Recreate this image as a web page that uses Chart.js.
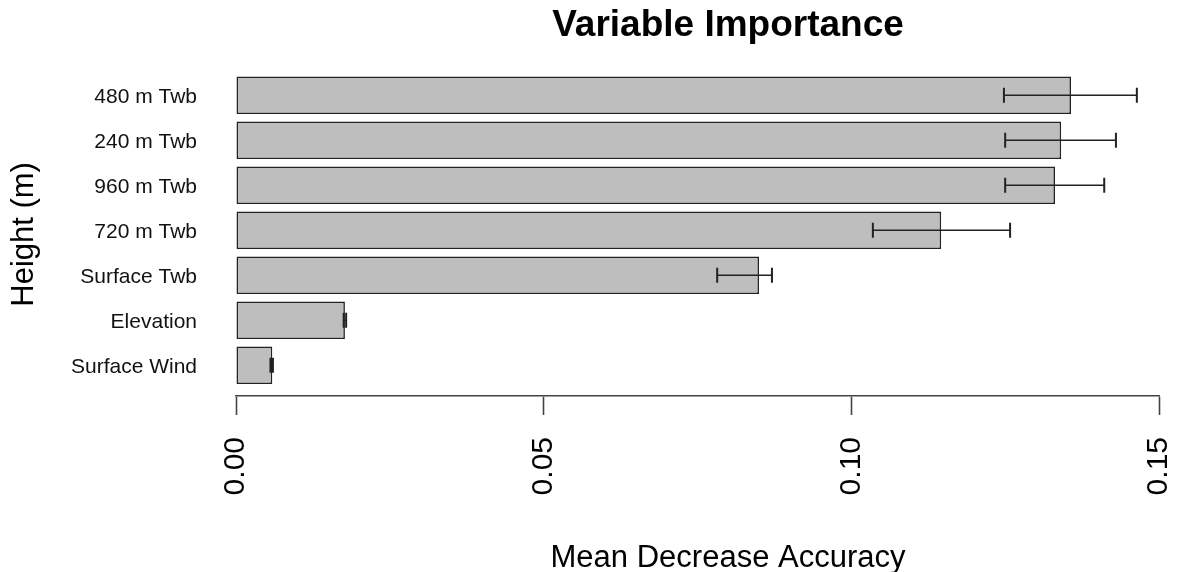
<!DOCTYPE html>
<html>
<head>
<meta charset="utf-8">
<title>Variable Importance</title>
<script src="https://cdn.jsdelivr.net/npm/chart.js@4/dist/chart.umd.min.js"></script>
<style>
  html, body { margin: 0; padding: 0; background: #ffffff; }
  #wrap { width: 1177px; height: 572px; }
</style>
</head>
<body>
<div id="wrap"><canvas id="chart" width="1177" height="572"></canvas></div>
<script>
// Predictors, listed from top to bottom
const variables = ['480 m Twb', '240 m Twb', '960 m Twb', '720 m Twb', 'Surface Twb', 'Elevation', 'Surface Wind'];
// Mean decrease in accuracy for each predictor
const importance = [0.1357, 0.1341, 0.1331, 0.1146, 0.0850, 0.0177, 0.0059];
// Lower and upper ends of the error bars
const errLow  = [0.1248, 0.1250, 0.1250, 0.1035, 0.0782, 0.0175, 0.0056];
const errHigh = [0.1464, 0.1430, 0.1411, 0.1258, 0.0871, 0.0179, 0.0060];
// Value-axis ticks
const xTicks = [0.00, 0.05, 0.10, 0.15];

const FONT = "'Liberation Sans', Arial, Helvetica, sans-serif";
const INK = '#222222';
const X_TITLE = 'Mean Decrease Accuracy';
const TITLE_CENTER_X = 728;

// Horizontal error bars with end caps, drawn over the bars
const errorBars = {
  id: 'errorBars',
  afterDatasetsDraw(chart) {
    const { ctx, scales: { x, y } } = chart;
    ctx.save();
    ctx.strokeStyle = INK;
    ctx.lineCap = 'butt';
    variables.forEach((_, i) => {
      const py = y.getPixelForValue(i);
      const x1 = x.getPixelForValue(errLow[i]);
      const x2 = x.getPixelForValue(errHigh[i]);
      ctx.lineWidth = 1.4;
      ctx.beginPath();
      ctx.moveTo(x1, py);
      ctx.lineTo(x2, py);
      ctx.stroke();
      ctx.lineWidth = 2;
      ctx.beginPath();
      ctx.moveTo(x1, py - 7.5);
      ctx.lineTo(x1, py + 7.5);
      ctx.moveTo(x2, py - 7.5);
      ctx.lineTo(x2, py + 7.5);
      ctx.stroke();
    });
    ctx.restore();
  }
};

// Main title and x-axis title are centred on the same column as the plot region
const centredTitles = {
  id: 'centredTitles',
  afterLayout(chart) {
    const tb = chart.titleBlock;
    if (tb) tb.left = 2 * TITLE_CENTER_X - tb.right;
  },
  afterDraw(chart) {
    const { ctx } = chart;
    ctx.save();
    ctx.fillStyle = '#000';
    ctx.font = '31px ' + FONT;
    ctx.textAlign = 'center';
    ctx.textBaseline = 'alphabetic';
    ctx.fillText(X_TITLE, TITLE_CENTER_X, 567);
    ctx.restore();
  }
};

new Chart(document.getElementById('chart'), {
  type: 'bar',
  data: {
    datasets: [{
      data: variables.map((_, i) => ({ x: importance[i], y: i })),
      backgroundColor: '#bebebe',
      borderColor: INK,
      borderWidth: 1.6,
      borderSkipped: false,
      barPercentage: 0.833,
      categoryPercentage: 1
    }]
  },
  options: {
    indexAxis: 'y',
    responsive: false,
    animation: false,
    layout: { padding: { left: 0, right: 18, top: 0, bottom: 0 } },
    plugins: {
      legend: { display: false },
      tooltip: { enabled: false },
      title: {
        display: true,
        text: 'Variable Importance',
        color: '#000',
        font: { family: FONT, size: 37, weight: 'bold', lineHeight: 1.2 },
        padding: { top: 4, bottom: 24.4 }
      }
    },
    scales: {
      x: {
        type: 'linear',
        position: 'bottom',
        min: 0,
        max: 0.15,
        afterBuildTicks(scale) { scale.ticks = xTicks.map(v => ({ value: v })); },
        afterFit(scale) {
          scale.height = 176;
          scale.paddingLeft = 0;
          scale.paddingRight = 0;
        },
        ticks: {
          autoSkip: false,
          minRotation: 90,
          maxRotation: 90,
          padding: 22,
          color: '#000',
          font: { family: FONT, size: 30 },
          callback: v => Number(v).toFixed(2)
        },
        grid: {
          display: true,
          drawOnChartArea: false,
          drawTicks: true,
          tickLength: 19,
          tickWidth: 1.6,
          tickColor: '#444'
        },
        border: { display: true, color: '#444', width: 1.6 },
        title: { display: false }
      },
      y: {
        type: 'linear',
        position: 'left',
        reverse: true,
        offset: false,
        min: -0.5,
        max: 6.682,
        afterBuildTicks(scale) { scale.ticks = variables.map((_, i) => ({ value: i })); },
        afterFit(scale) {
          scale.width = 236;
          scale.paddingTop = 0;
          scale.paddingBottom = 0;
        },
        ticks: {
          autoSkip: false,
          padding: 0,
          labelOffset: 2,
          color: '#111',
          font: { family: FONT, size: 21 },
          callback: v => variables[v]
        },
        grid: {
          display: true,
          offset: false,
          drawOnChartArea: false,
          drawTicks: true,
          tickLength: 39,
          tickColor: 'rgba(0,0,0,0)'
        },
        border: { display: false },
        title: {
          display: true,
          text: 'Height (m)',
          color: '#000',
          font: { family: FONT, size: 31, lineHeight: 1.2 },
          padding: { top: 6, bottom: 0 }
        }
      }
    }
  },
  plugins: [errorBars, centredTitles]
});
</script>
</body>
</html>
